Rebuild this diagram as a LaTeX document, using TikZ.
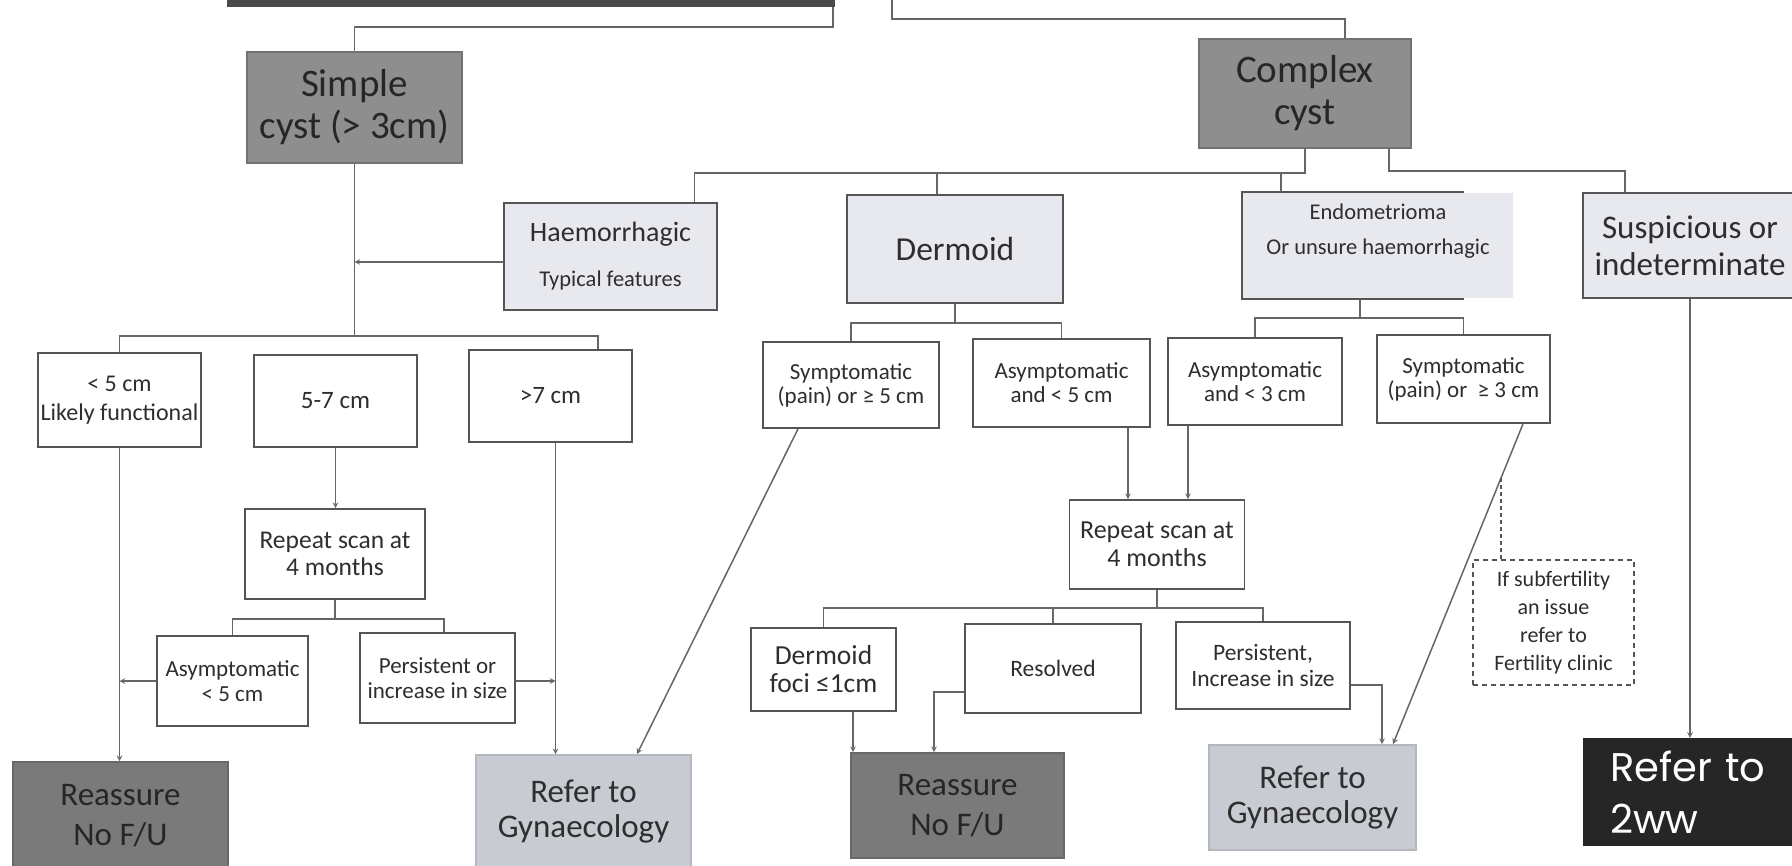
\documentclass[tikz,border=0pt]{standalone}
\usepackage{fontspec}
\setmainfont{Carlito}
\newfontfamily\popfont{Poppins}
\usepackage{tikz}
\usetikzlibrary{arrows, positioning, calc}

\definecolor{inkgray}{HTML}{2E2E2E}
\definecolor{linegray}{HTML}{555555}
\definecolor{midgray}{HTML}{8E8E8E}
\definecolor{palegray}{HTML}{E8E9EE}
\definecolor{reassgray}{HTML}{7A7A7A}
\definecolor{refergray}{HTML}{C9CBD3}
\definecolor{bargray}{HTML}{4A4A4A}
\definecolor{urgentblack}{HTML}{262626}

\newcommand{\fsz}[2]{\fontsize{#1}{#2}\selectfont}

\tikzstyle{box} = [rectangle, draw=linegray, line width=1.8pt, inner sep=0pt, align=center, text=inkgray]
\tikzstyle{cystbox} = [box, fill=midgray, draw=midgray!80!black, text=black!85]
\tikzstyle{typebox} = [box, fill=palegray]
\tikzstyle{sizebox} = [box, fill=white]
\tikzstyle{notebox} = [box, fill=white, line width=1.5pt, dash pattern=on 5pt off 4pt]
\tikzstyle{reassbox} = [box, fill=reassgray, draw=reassgray!85!black, text=black!85]
\tikzstyle{referbox} = [box, fill=refergray, draw=refergray!90!black]
\tikzstyle{urgentbox} = [rectangle, fill=urgentblack, text=white, inner sep=0pt, align=left]
\tikzstyle{link} = [draw=linegray!90, line width=1.5pt]
\tikzstyle{arrow} = [link, ->, >=stealth]
\tikzstyle{dotline} = [draw=linegray, line width=1.5pt, dash pattern=on 4pt off 3pt]

\begin{document}
\begin{tikzpicture}[x=1pt, y=-1pt]
\useasboundingbox[fill=white] (0,0) rectangle (1792,866);

% Top of chart
\node (topbar) [rectangle, fill=bargray, minimum width=608pt, minimum height=47pt, inner sep=0pt] at (531,-16.5) {};
\coordinate (topright) at (892,0);

% Cyst type
\node (simple) [cystbox, minimum width=215pt, minimum height=111pt, font=\fsz{39}{42}] at (354.5,107.5) {Simple\\cyst (> 3cm)};
\node (complex) [cystbox, minimum width=212pt, minimum height=109pt, font=\fsz{39}{42}] at (1305,93.5) {Complex\\cyst};

% Complex cyst types
\node (haem) [typebox, minimum width=213pt, minimum height=107pt, font=\fsz{22.5}{45}] at (610.5,256.5) {{\fsz{28}{45}Haemorrhagic}\\Typical features};
\node (dermoid) [typebox, minimum width=216pt, minimum height=108pt, font=\fsz{33.5}{40}] at (955,249) {Dermoid};
\node (endo) [typebox, draw=none, minimum width=270pt, minimum height=105pt, text depth=33pt, font=\fsz{22.5}{35}] at (1378,245.5) {Endometrioma\\Or unsure haemorrhagic};
\draw [link, draw=linegray, line width=1.8pt] ([xshift=-50pt]endo.north east) -- (endo.north west) -- (endo.south west) -- ([xshift=-50pt]endo.south east);
\node (susp) [typebox, minimum width=214pt, minimum height=105pt, font=\fsz{33}{37}] at (1690,245.5) {Suspicious or\\indeterminate};

% Simple cyst sizes
\node (lt5) [sizebox, minimum width=163pt, minimum height=94pt, font=\fsz{24}{29}] at (119.5,400) {< 5 cm\\Likely functional};
\node (mid57) [sizebox, minimum width=163pt, minimum height=92pt, font=\fsz{25}{30}] at (335.5,401) {5-7 cm};
\node (gt7) [sizebox, minimum width=163pt, minimum height=92pt, font=\fsz{25}{30}] at (550.5,396) {>7 cm};
\node (rep1) [sizebox, minimum width=180pt, minimum height=90pt, font=\fsz{25.5}{27}] at (335,554) {Repeat scan at\\4 months};
\node (asy5) [sizebox, minimum width=151pt, minimum height=90pt, font=\fsz{23}{25}] at (232.5,681) {Asymptomatic\\< 5 cm};
\node (pers1) [sizebox, minimum width=155pt, minimum height=90pt, font=\fsz{23}{25}] at (437.5,678) {Persistent or\\increase in size};

% Dermoid / endometrioma sizes
\node (symp5) [sizebox, minimum width=176pt, minimum height=86pt, font=\fsz{23}{24}] at (851,385) {Symptomatic\\(pain) or ≥ 5 cm};
\node (asy5b) [sizebox, minimum width=177pt, minimum height=88pt, font=\fsz{23}{24}] at (1061.5,383) {Asymptomatic\\and < 5 cm};
\node (asy3) [sizebox, minimum width=174pt, minimum height=87pt, font=\fsz{23}{24}] at (1255,381.5) {Asymptomatic\\and < 3 cm};
\node (symp3) [sizebox, minimum width=173pt, minimum height=88pt, font=\fsz{23}{24}] at (1463.5,379) {Symptomatic\\(pain) or\ \ ≥ 3 cm};

% Repeat scan
\node (rep2) [sizebox, minimum width=175pt, minimum height=89pt, font=\fsz{26}{28}] at (1157,544.5) {Repeat scan at\\4 months};
\node (foci) [sizebox, minimum width=145pt, minimum height=83pt, font=\fsz{27.5}{28}] at (823.5,669.5) {Dermoid\\foci ≤1cm};
\node (resolved) [sizebox, minimum width=176pt, minimum height=89pt, font=\fsz{23.5}{25}] at (1053,668.5) {Resolved};
\node (pers2) [sizebox, minimum width=174pt, minimum height=87pt, font=\fsz{23.5}{25}] at (1263,665.5) {Persistent,\\Increase in size};
\node (fert) [notebox, minimum width=161pt, minimum height=125pt, font=\fsz{22}{28}] at (1553.5,622.5) {If subfertility\\an issue\\refer to\\Fertility clinic};

% Outcomes
\node (reas1) [reassbox, minimum width=215pt, minimum height=108pt, font=\fsz{33}{40}] at (120.5,816) {Reassure\\No F/U};
\node (gyn1) [referbox, minimum width=215pt, minimum height=114pt, font=\fsz{33}{35}] at (583.5,812) {Refer to\\Gynaecology};
\node (reas2) [reassbox, minimum width=213pt, minimum height=105pt, font=\fsz{33}{40}] at (957.5,805.5) {Reassure\\No F/U};
\node (gyn2) [referbox, minimum width=207pt, minimum height=105pt, font=\fsz{33}{35}] at (1312.5,797.5) {Refer to\\Gynaecology};
\node (ww2) [urgentbox, text width=190pt, inner xsep=27pt, minimum height=108pt, font=\popfont\fsz{40}{52}] at (1705,792) {Refer to\\2ww};

% Top connectors
\draw [link] ([xshift=-2pt]topbar.south east) -- ++(0,20) -| (simple.north);
\draw [link] (topright) -- ++(0,19) -| ([xshift=40pt]complex.north);
\draw [link] (complex.south) -- ++(0,24) coordinate (cb) -| ([xshift=84pt]haem.north);
\draw [link] ([xshift=-18pt]dermoid.north) -- ([xshift=-18pt]dermoid.north |- cb);
\draw [link] ([xshift=-97pt]endo.north) -- ([xshift=-97pt]endo.north |- cb);
\draw [link] ([xshift=84pt]complex.south) -- ++(0,22) -| ([xshift=-65pt]susp.north);

% Simple cyst branch
\draw [link] (simple.south) -- ++(0,172) coordinate (sb);
\draw [link] (lt5.north) |- (sb) -| ([xshift=47.5pt]gt7.north);
\draw [arrow] ([yshift=-5.5pt]haem.west) -- ([yshift=-5.5pt]haem.west -| sb);
\draw [arrow] (lt5.south) -- (lt5.south |- reas1.north);
\draw [arrow] (mid57.south) -- (mid57.south |- rep1.north);
\draw [arrow] ([xshift=5pt]gt7.south) coordinate (g7) -- (g7 |- gyn1.north);
\draw [link] (rep1.south) -- ++(0,19) coordinate (rb);
\draw [link] (asy5.north) |- (rb) -| ([xshift=6.5pt]pers1.north);
\draw [arrow] (asy5.west) -- (asy5.west -| lt5.south);
\draw [arrow] ([yshift=-3pt]pers1.east) -- ([yshift=-3pt]pers1.east -| g7);

% Dermoid branch
\draw [link] (dermoid.south) -- ++(0,19) coordinate (db);
\draw [link] (symp5.north) |- (db) -| (asy5b.north);
\draw [arrow] ([xshift=-53pt]symp5.south) -- ([xshift=53.5pt]gyn1.north);
\draw [arrow] ([xshift=66.5pt]asy5b.south) -- ([xshift=66.5pt]asy5b.south |- rep2.north);

% Endometrioma branch
\draw [link] ([xshift=-18pt]endo.south) -- ++(0,19) coordinate (eb);
\draw [link] (asy3.north) |- (eb) -| (symp3.north);
\draw [arrow] ([xshift=-67pt]asy3.south) -- ([xshift=-67pt]asy3.south |- rep2.north);
\draw [arrow] ([xshift=59.5pt]symp3.south) -- coordinate[pos=0.17] (sf) ([xshift=80.5pt]gyn2.north);
\draw [dotline] (sf) -- (sf |- fert.north);

% Repeat scan outcomes
\draw [link] (rep2.south) -- ++(0,18) coordinate (r2b);
\draw [link] (foci.north) |- (r2b) -| (pers2.north);
\draw [link] (resolved.north) -- (resolved.north |- r2b);
\draw [arrow] ([xshift=29.5pt]foci.south) -- ([xshift=29.5pt]foci.south |- reas2.north);
\draw [arrow] ([yshift=-23.5pt]resolved.west) -| ([xshift=-23.5pt]reas2.north);
\draw [arrow] ([yshift=-19.5pt]pers2.east) -| ([xshift=69.5pt]gyn2.north);

% Suspicious
\draw [arrow] (susp.south) -- (susp.south |- ww2.north);

\end{tikzpicture}
\end{document}
